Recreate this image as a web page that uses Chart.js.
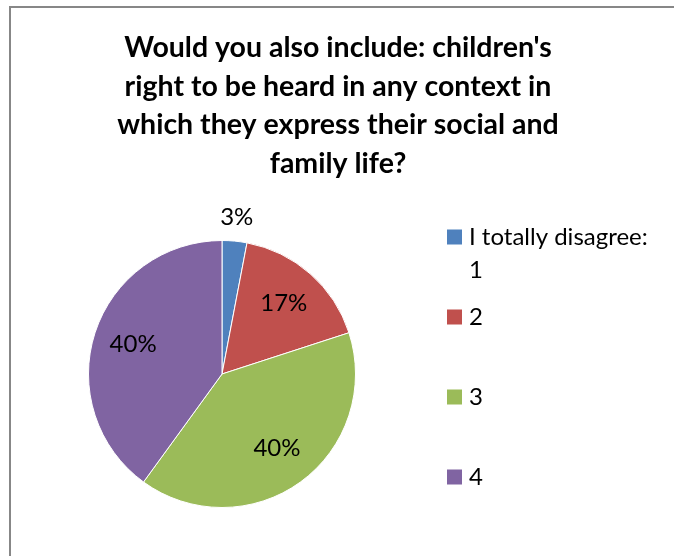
<!DOCTYPE html>
<html>
<head>
<meta charset="utf-8">
<script src="https://cdn.jsdelivr.net/npm/chart.js@4/dist/chart.umd.min.js"></script>
<style>
  html, body { margin: 0; padding: 0; background: #ffffff; }
  #wrap { width: 674px; height: 556px; position: relative; }
</style>
</head>
<body>
<div id="wrap"><canvas id="chart" width="674" height="556"></canvas></div>
<script>
// Survey answers (share of respondents, %)
const categories = ['I totally disagree: 1', '2', '3', '4'];
const shares = [3, 17, 40, 40];
const sliceColors = ['#4F81BD', '#C0504D', '#9BBB59', '#8064A2'];
const titleLines = [
  "Would you also include: children's",
  'right to be heard in any context in',
  'which they express their social and',
  'family life?'
];

const FONT = 'Lato, Carlito, Calibri, sans-serif';

// Thin grey frame along the top and left edges
const framePlugin = {
  id: 'frame',
  beforeDraw(chart) {
    const ctx = chart.ctx;
    ctx.save();
    ctx.strokeStyle = '#878787';
    ctx.lineWidth = 2;
    ctx.beginPath();
    ctx.moveTo(10, chart.height);
    ctx.lineTo(10, 7);
    ctx.lineTo(chart.width, 7);
    ctx.stroke();
    ctx.restore();
  }
};

// Title centred across the whole canvas, above the pie
const titlePlugin = {
  id: 'wideTitle',
  afterDraw(chart) {
    const ctx = chart.ctx;
    ctx.save();
    ctx.font = 'bold 28.5px ' + FONT;
    ctx.fillStyle = '#000000';
    ctx.textAlign = 'center';
    ctx.textBaseline = 'middle';
    titleLines.forEach((ln, i) => ctx.fillText(ln, chart.width / 2 + 1, 48 + i * 38.6));
    ctx.restore();
  }
};

// Percentage labels: inside the slice, or just outside for thin slices
const sliceLabelPlugin = {
  id: 'sliceLabels',
  afterDatasetsDraw(chart) {
    const ctx = chart.ctx;
    const meta = chart.getDatasetMeta(0);
    const values = chart.data.datasets[0].data;
    const total = values.reduce((a, b) => a + b, 0);
    ctx.save();
    ctx.font = '24px ' + FONT;
    ctx.fillStyle = '#000000';
    ctx.textAlign = 'center';
    ctx.textBaseline = 'middle';
    meta.data.forEach((arc, i) => {
      const p = arc.getProps(['x', 'y', 'startAngle', 'endAngle', 'outerRadius'], true);
      const mid = (p.startAngle + p.endAngle) / 2;
      const pct = values[i] / total * 100;
      const dist = pct < 5 ? p.outerRadius + 23 : p.outerRadius * 0.70;
      const lx = p.x + Math.cos(mid) * dist;
      const ly = p.y + Math.sin(mid) * dist - 1;
      ctx.fillText(Math.round(pct) + '%', lx, ly);
    });
    ctx.restore();
  }
};

// Legend on the right with wrapped item text
const sideLegendPlugin = {
  id: 'sideLegend',
  afterDraw(chart) {
    const ctx = chart.ctx;
    const area = chart.chartArea;
    const left = area.right + 91;
    const textX = left + 22;
    const maxWidth = 190;
    const step = 80;
    const lineGap = 33;
    const box = 15;
    let y = area.top - 3;
    ctx.save();
    ctx.font = '24px ' + FONT;
    ctx.textBaseline = 'middle';
    ctx.textAlign = 'left';
    chart.data.labels.forEach((label, i) => {
      // wrap the label by words
      const words = String(label).split(' ');
      const lines = [];
      let cur = '';
      words.forEach(w => {
        const test = cur ? cur + ' ' + w : w;
        if (ctx.measureText(test).width > maxWidth && cur) {
          lines.push(cur);
          cur = w;
        } else {
          cur = test;
        }
      });
      if (cur) lines.push(cur);
      ctx.fillStyle = chart.data.datasets[0].backgroundColor[i];
      ctx.fillRect(left, y - box / 2, box, box);
      ctx.fillStyle = '#000000';
      lines.forEach((ln, k) => ctx.fillText(ln, textX, y + k * lineGap));
      y += step;
    });
    ctx.restore();
  }
};

new Chart(document.getElementById('chart'), {
  type: 'pie',
  data: {
    labels: categories,
    datasets: [{
      data: shares,
      backgroundColor: sliceColors,
      borderColor: '#ffffff',
      borderWidth: 1,
      hoverOffset: 0
    }]
  },
  options: {
    responsive: false,
    animation: false,
    layout: { padding: { left: 88, right: 318, top: 240, bottom: 48 } },
    plugins: {
      legend: { display: false },
      tooltip: { enabled: false },
      title: { display: false }
    }
  },
  plugins: [framePlugin, titlePlugin, sliceLabelPlugin, sideLegendPlugin]
});
</script>
</body>
</html>
